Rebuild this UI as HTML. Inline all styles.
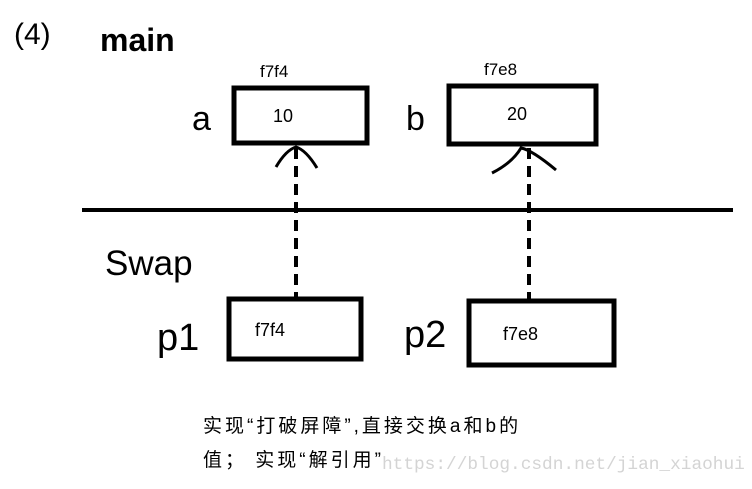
<!DOCTYPE html>
<html><head><meta charset="utf-8"><style>
body{margin:0;width:752px;height:489px;background:#fff;overflow:hidden;position:relative;font-family:"Liberation Sans","Noto Sans CJK SC",sans-serif;}
.t{position:absolute;white-space:nowrap;color:#000;}
</style></head><body>
<svg width="752" height="489" style="position:absolute;left:0;top:0">
<g fill="none" stroke="#000" stroke-width="5">
<rect x="234" y="88" width="133" height="55"/>
<rect x="449" y="86" width="147" height="58"/>
<rect x="229" y="299" width="132" height="60"/>
<rect x="469" y="301" width="145" height="64"/>
</g>
<line x1="82" y1="210" x2="733" y2="210" stroke="#000" stroke-width="4"/>
<line x1="296" y1="148" x2="296" y2="297" stroke="#000" stroke-width="4" stroke-dasharray="11,7"/>
<line x1="529" y1="148" x2="529" y2="300" stroke="#000" stroke-width="4" stroke-dasharray="11,7"/>
<path d="M276 167 Q286 150 296 147 Q306 150 317 168" fill="none" stroke="#000" stroke-width="3"/>
<path d="M492 173 Q512 163 521 148 Q532 150 556 170" fill="none" stroke="#000" stroke-width="3"/>
</svg>
<div class="t" style="left:14px;top:18px;font-size:30px">(4)</div>
<div class="t" style="left:100px;top:22px;font-size:32px;font-weight:bold">main</div>
<div class="t" style="left:260px;top:62px;font-size:17px">f7f4</div>
<div class="t" style="left:484px;top:60px;font-size:17px">f7e8</div>
<div class="t" style="left:192px;top:100px;font-size:34px">a</div>
<div class="t" style="left:406px;top:100px;font-size:34px">b</div>
<div class="t" style="left:273px;top:106px;font-size:18px">10</div>
<div class="t" style="left:507px;top:104px;font-size:18px">20</div>
<div class="t" style="left:105px;top:244px;font-size:35px">Swap</div>
<div class="t" style="left:157px;top:317px;font-size:38px">p1</div>
<div class="t" style="left:404px;top:314px;font-size:38px">p2</div>
<div class="t" style="left:255px;top:320px;font-size:18px">f7f4</div>
<div class="t" style="left:503px;top:324px;font-size:18px">f7e8</div>
<div class="t" style="left:203px;top:411px;font-size:19px;letter-spacing:3px">实现“打破屏障”,直接交换a和b的</div>
<div class="t" style="left:203px;top:445px;font-size:19px;letter-spacing:3px">值； 实现“解引用”</div>
<div class="t" style="left:382px;top:455px;font-size:17.8px;color:#d4d4d4;font-family:'Liberation Mono',monospace">https://blog.csdn.net/jian_xiaohui</div>
</body></html>
